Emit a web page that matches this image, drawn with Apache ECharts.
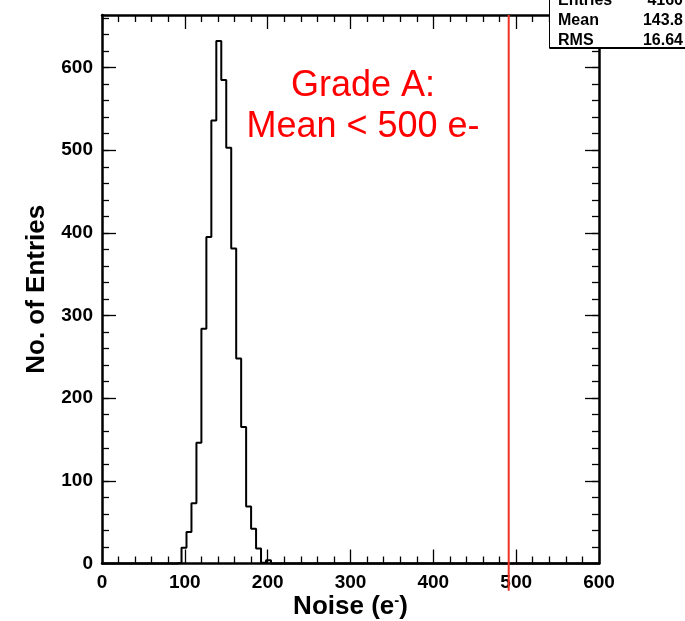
<!DOCTYPE html>
<html><head><meta charset="utf-8">
<script src="https://cdn.jsdelivr.net/npm/echarts@6/dist/echarts.min.js"></script>
<style>html,body{margin:0;padding:0;background:#fff}#c{width:685px;height:621px}</style>
</head><body><div id="c"></div>
<script>
// ---- data ----
const binWidth = 6;
const binStart = 90;
const counts = [1, 19, 38, 73, 146, 284, 395, 536, 632, 585, 503, 381, 248, 165, 69, 42, 18, 1, 4];
const xMin = 0, xMax = 600, xStep = 100;
const yMin = 0, yMax = 663.6, yStep = 100, yMinorStep = 20;
const cutX = 491;            // grade cut line position
const cutLineBottom = -33;   // line runs a bit below the axis
const statsLabels = ['Entries', 'Mean', 'RMS'];
const statsValues = ['4160', '143.8', '16.64'];
const gradeLines = ['Grade A:', 'Mean < 500 e-'];

// ---- build histogram outline ----
const outline = [[xMin, 0]];
counts.forEach((c, i) => outline.push([binStart + i * binWidth, c]));
outline.push([binStart + counts.length * binWidth, 0]);
outline.push([xMax, 0]);

const FONT = 'Liberation Sans, Arial, Helvetica, sans-serif';
const chart = echarts.init(document.getElementById('c'), null, {renderer: 'canvas'});

function xAx(pos, labels) {
  return {
    type: 'value', position: pos, min: xMin, max: xMax, interval: xStep,
    axisLine: {show: true, onZero: false, lineStyle: {color: '#000', width: 2.5}},
    axisTick: {show: true, inside: true, length: 14, lineStyle: {color: '#000', width: 1.3}},
    minorTick: {show: true, splitNumber: 5, length: 7, lineStyle: {color: '#000', width: 1.3}},
    splitLine: {show: false},
    axisLabel: {show: labels, margin: 10, fontSize: 19, fontWeight: 'bold', color: '#000', fontFamily: FONT},
    name: labels ? '{t|Noise (e}{s|-}{t|)}' : '',
    nameLocation: 'middle', nameGap: 30, nameMoveOverlap: false,
    nameTextStyle: {
      rich: {
        t: {fontSize: 26, fontWeight: 'bold', color: '#000', fontFamily: FONT},
        s: {fontSize: 15, fontWeight: 'bold', color: '#000', fontFamily: FONT, verticalAlign: 'top'}
      }
    }
  };
}
function yAx(pos, major, labels) {
  return {
    type: 'value', position: pos, min: yMin, max: yMax, interval: major ? yStep : yMinorStep,
    axisLine: {show: major, onZero: false, lineStyle: {color: '#000', width: 2.5}},
    axisTick: {show: true, inside: true, length: major ? 14 : 7, lineStyle: {color: '#000', width: 1.3}},
    splitLine: {show: false},
    axisLabel: {show: labels, showMaxLabel: false, margin: 9, fontSize: 19, fontWeight: 'bold', color: '#000', fontFamily: FONT},
    name: labels ? 'No. of Entries' : '',
    nameLocation: 'middle', nameGap: 52,
    nameTextStyle: {fontSize: 26, fontWeight: 'bold', color: '#000', fontFamily: FONT}
  };
}

const graphics = [];
// stats box
graphics.push({type: 'rect', z: 100, shape: {x: 549.5, y: -40, width: 150, height: 88},
  style: {fill: '#fff', stroke: '#000', lineWidth: 1}});
graphics.push({type: 'line', z: 101, shape: {x1: 549.5, y1: 48, x2: 685, y2: 48},
  style: {stroke: '#000', lineWidth: 2}});
statsLabels.forEach((t, i) => {
  graphics.push({type: 'text', z: 102, x: 558, y: 1 + i * 20,
    style: {text: t, fill: '#000', font: 'bold 16px ' + FONT, textAlign: 'left', textVerticalAlign: 'middle'}});
  graphics.push({type: 'text', z: 102, x: 683, y: 1 + i * 20,
    style: {text: statsValues[i], fill: '#000', font: 'bold 16px ' + FONT, textAlign: 'right', textVerticalAlign: 'middle'}});
});
gradeLines.forEach((t, i) => {
  graphics.push({type: 'text', z: 50, x: 363, y: 86 + i * 41,
    style: {text: t, fill: '#ff0000', font: '36px ' + FONT, textAlign: 'center', textVerticalAlign: 'middle'}});
});

chart.setOption({
  backgroundColor: '#fff',
  animation: false,
  grid: {left: 102, right: 86, top: 15, bottom: 57.5, containLabel: false, outerBoundsMode: 'none'},
  xAxis: [xAx('bottom', true), xAx('top', false)],
  yAxis: [yAx('left', true, true), yAx('right', true, false), yAx('left', false, false), yAx('right', false, false)],
  series: [
    {
      type: 'line', step: 'end', data: outline, xAxisIndex: 0, yAxisIndex: 0,
      symbol: 'none', clip: false, z: 3,
      lineStyle: {color: '#000', width: 2}
    },
    {
      type: 'custom', xAxisIndex: 0, yAxisIndex: 0, clip: false, silent: true, z: 4,
      data: [[cutX, 0]],
      renderItem: function (params, api) {
        const top = api.coord([api.value(0), yMax]);
        const bot = api.coord([api.value(0), cutLineBottom]);
        return {type: 'line', shape: {x1: top[0], y1: top[1], x2: bot[0], y2: bot[1]},
          style: {stroke: '#ee3322', lineWidth: 2}};
      }
    }
  ],
  graphic: graphics
});
</script></body></html>
